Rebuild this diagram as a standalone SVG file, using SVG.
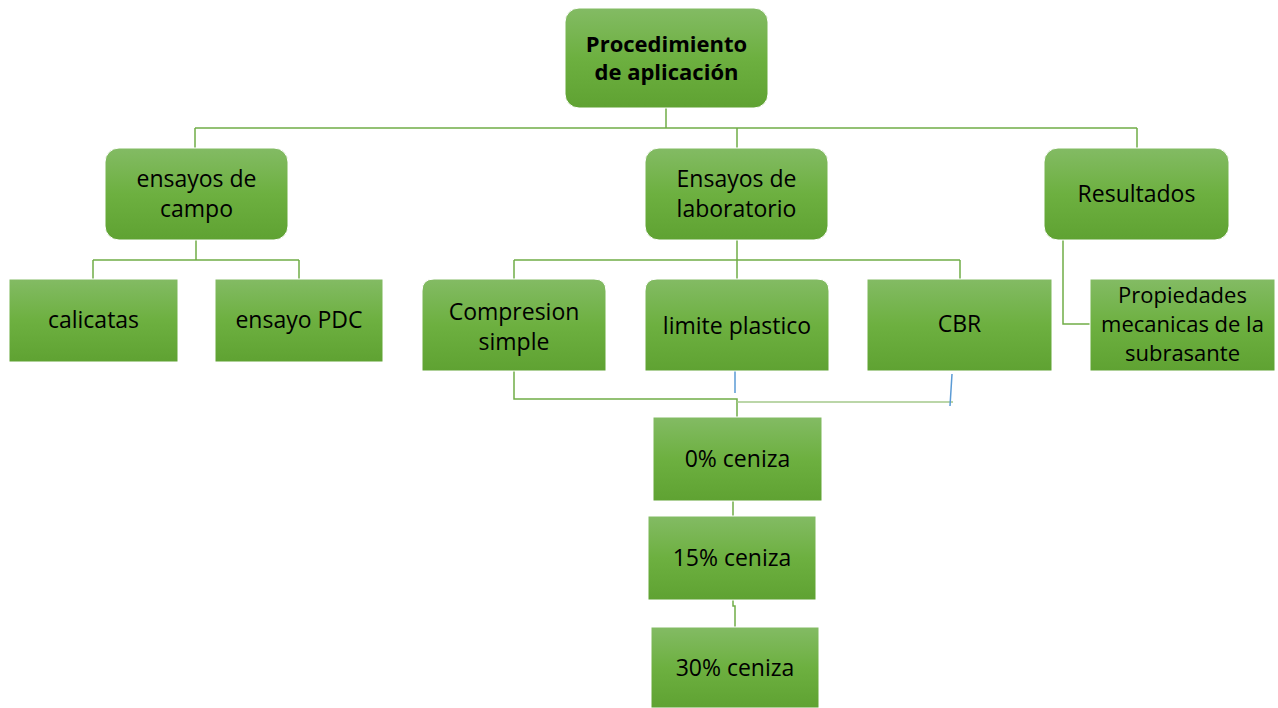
<svg xmlns="http://www.w3.org/2000/svg" width="1278" height="708" viewBox="0 0 1278 708">
<defs>
<linearGradient id="g" x1="0" y1="0" x2="0" y2="1">
<stop offset="0" stop-color="#83bb64"/>
<stop offset="0.5" stop-color="#6db040"/>
<stop offset="1" stop-color="#5fa232"/>
</linearGradient>
</defs>
<style>
.box{fill:url(#g);stroke:#ffffff;stroke-width:1}
.t{font-family:"Open Sans","Liberation Sans",sans-serif;font-size:23px;fill:#000;text-anchor:middle}
.b{font-weight:bold;font-size:22px}
.s{font-size:22px}
.c{fill:none;stroke:#70ad47;stroke-width:1.5}
.cl{fill:none;stroke:#a5c98b;stroke-width:1.5}
.bl{fill:none;stroke:#5b9bd5;stroke-width:1.5}
</style>
<rect width="1278" height="708" fill="#ffffff"/>
<g id="connectors">
<path class="c" d="M666,108 V128 M195,128 H1137 M195,128 V148 M737,128 V148 M1137,128 V148"/>
<path class="c" d="M196,240 V260 M93,260 H299 M93,260 V279 M299,260 V279"/>
<path class="c" d="M737,240 V279 M514,260 H960 M514,260 V279 M960,260 V279"/>
<path class="c" d="M1063,240 V324 H1090"/>
<path class="c" d="M514,371 V399 H737 V417"/>
<path class="cl" d="M737,402 H953"/>
<path class="bl" d="M735,364 V393 M952,374 L950,406"/>
<path class="c" d="M733,501 V516 M733,600 V606 H735 V627"/>
</g>
<g id="n-procedimiento">
<rect class="box" x="565" y="8" width="203" height="100" rx="14"/>
<text class="t b" x="666.5" y="52">Procedimiento</text>
<text class="t b" x="666.5" y="80">de aplicación</text>
</g>
<g id="n-campo">
<rect class="box" x="105" y="148" width="183" height="92" rx="14"/>
<text class="t" x="196.5" y="187">ensayos de</text>
<text class="t" x="196.5" y="217">campo</text>
</g>
<g id="n-laboratorio">
<rect class="box" x="645" y="148" width="183" height="92" rx="14"/>
<text class="t" x="736.5" y="187">Ensayos de</text>
<text class="t" x="736.5" y="217">laboratorio</text>
</g>
<g id="n-resultados">
<rect class="box" x="1044" y="148" width="185" height="92" rx="14"/>
<text class="t" x="1136.5" y="202">Resultados</text>
</g>
<g id="n-calicatas">
<rect class="box" x="9" y="279" width="169" height="83"/>
<text class="t" x="93.5" y="328">calicatas</text>
</g>
<g id="n-pdc">
<rect class="box" x="215" y="279" width="168" height="83"/>
<text class="t" x="299" y="328">ensayo PDC</text>
</g>
<g id="n-compresion">
<path class="box" d="M422,371 V291 Q422,279 434,279 H594 Q606,279 606,291 V371 Z"/>
<text class="t" x="514" y="320">Compresion</text>
<text class="t" x="514" y="350">simple</text>
</g>
<g id="n-limite">
<path class="box" d="M645,371 V291 Q645,279 657,279 H817 Q829,279 829,291 V371 Z"/>
<text class="t" x="737" y="334">limite plastico</text>
</g>
<g id="n-cbr">
<rect class="box" x="867" y="279" width="185" height="92"/>
<text class="t" x="959.5" y="332">CBR</text>
</g>
<g id="n-propiedades">
<rect class="box" x="1090" y="279" width="185" height="92"/>
<text class="t s" x="1182.5" y="303">Propiedades</text>
<text class="t s" x="1182.5" y="332">mecanicas de la</text>
<text class="t s" x="1182.5" y="361">subrasante</text>
</g>
<g id="n-0">
<rect class="box" x="653" y="417" width="169" height="84"/>
<text class="t" x="737.5" y="467">0% ceniza</text>
</g>
<g id="n-15">
<rect class="box" x="648" y="516" width="168" height="84"/>
<text class="t" x="732" y="566">15% ceniza</text>
</g>
<g id="n-30">
<rect class="box" x="651" y="627" width="168" height="81"/>
<text class="t" x="735" y="676">30% ceniza</text>
</g>
</svg>
